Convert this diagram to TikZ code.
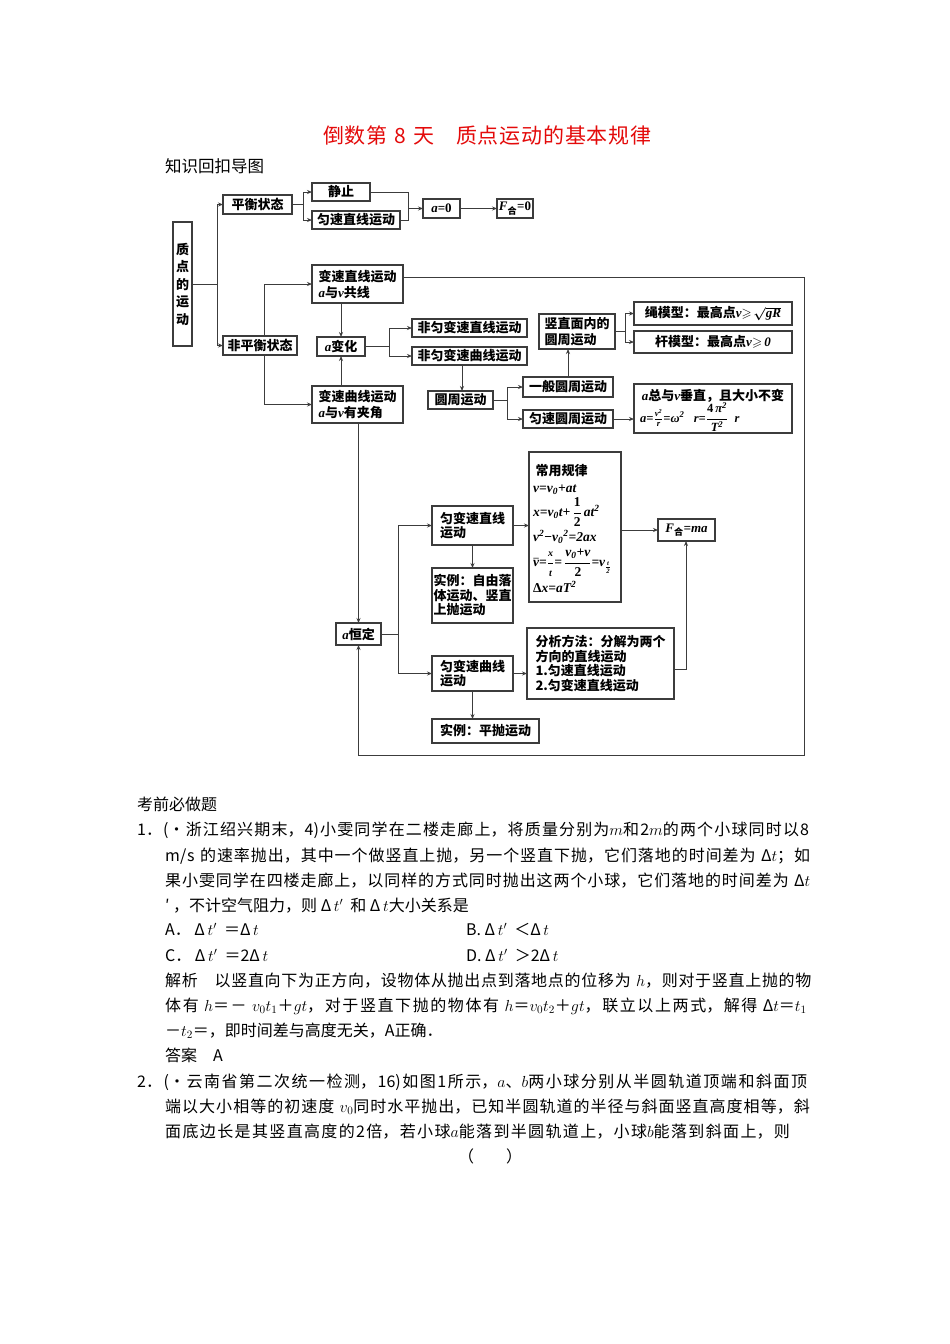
\RequirePackage{fix-cm}
\documentclass[tikz,border=0pt]{standalone}
\usepackage{amsmath,amssymb}
\usepackage{fontspec}
\setmainfont{Liberation Serif}
\newfontfamily\cjk{Noto Sans CJK SC}
\usetikzlibrary{arrows.meta}
\XeTeXlinebreaklocale "zh"
\XeTeXlinebreakskip=0pt plus 6pt minus 0.5pt
\tolerance=10000
\hbadness=10000
\definecolor{lc}{RGB}{60,60,60}
\definecolor{titlered}{RGB}{228,10,10}
\newcommand\dfont{\cjk\bfseries\boldmath\fontsize{13}{15}\selectfont}
\newcommand\bodyf{\cjk\fontsize{16}{20}\selectfont}
\newcommand\fm{\rmfamily\bfseries\itshape}
\newcommand\he{\textsubscript{\cjk\bfseries\upshape 合}}
\newcommand\up[1]{{\upshape #1}}
\newcommand\sm[1]{{\fontsize{10}{11}\selectfont #1}}
\newcommand\tline[4]{\node[anchor=base west,inner sep=0pt,text width=#3pt,font=\bodyf] (#1) at #2 {\noindent\parfillskip=0pt\relax #4\par};}
\tikzset{
  box/.style={draw=lc, line width=1.1pt, inner sep=0pt, outer sep=0pt, font=\dfont, align=center},
  ln/.style={draw=lc, line width=0.9pt},
  arr/.style={ln, -{Stealth[length=5pt,width=4pt]}},
  fml/.style={inner sep=0pt, font=\fm\boldmath\fontsize{13.5}{15}\selectfont},
  plain/.style={inner sep=0pt, font=\bodyf},
}
\begin{document}
\begin{tikzpicture}[x=1pt,y=-1pt]
\fill[white] (0,0) rectangle (950,1344);
\useasboundingbox (0,0) rectangle (950,1344);

% title
\node[inner sep=0pt,text width=334pt,font=\cjk\fontsize{21}{24}\selectfont,text=titlered] (title) at (490,136) {\noindent\parfillskip=0pt\relax 倒数第 8 天　质点运动的基本规律\par};
\node[anchor=west,inner sep=0pt,font=\cjk\fontsize{16.5}{20}\selectfont] (sub) at (165,166) {知识回扣导图};

% ---------- boxes ----------
\node[box,minimum width=19pt,minimum height=124pt,font=\dfont\fontsize{13}{17.5}\selectfont] (zhidian) at (182.5,284) {质\\点\\的\\运\\动};
\node[box,minimum width=69pt,minimum height=19pt] (pingheng) at (257.5,204.5) {平衡状态};
\node[box,minimum width=58pt,minimum height=18pt] (jingzhi) at (341,192) {静止};
\node[box,minimum width=88pt,minimum height=18pt] (yunsu) at (356,220) {匀速直线运动};
\node[box,minimum width=37pt,minimum height=19pt] (a0) at (441.5,208.5) {{\fm a}{\rmfamily\bfseries =0}};
\node[box,minimum width=36pt,minimum height=19pt] (F0) at (515,208.5) {{\fm F\he}{\rmfamily\bfseries =0}};
\node[box,minimum width=74pt,minimum height=19pt] (feiping) at (260,345.5) {非平衡状态};
\node[box,minimum width=91pt,minimum height=38pt,align=left,font=\dfont\fontsize{13}{16}\selectfont] (bsz) at (357.5,284) {变速直线运动\\{\fm a}与{\fm v}共线};
\node[box,minimum width=48pt,minimum height=19pt] (abh) at (341,346.5) {{\fm a}变化};
\node[box,minimum width=91pt,minimum height=37pt,align=left,font=\dfont\fontsize{13}{16}\selectfont] (bsq) at (357.5,404.5) {变速曲线运动\\{\fm a}与{\fm v}有夹角};
\node[box,minimum width=115pt,minimum height=18pt] (fz) at (469.5,328) {非匀变速直线运动};
\node[box,minimum width=115pt,minimum height=18pt] (fq) at (469.5,356) {非匀变速曲线运动};
\node[box,minimum width=65pt,minimum height=18pt] (yz) at (460.5,400) {圆周运动};
\node[box,minimum width=90pt,minimum height=20pt] (yb) at (568,387) {一般圆周运动};
\node[box,minimum width=90pt,minimum height=18pt] (ys) at (568,419) {匀速圆周运动};
\node[box,minimum width=76pt,minimum height=35pt,align=left,font=\dfont\fontsize{13}{16}\selectfont] (szm) at (577,331.5) {竖直面内的\\圆周运动};
\node[box,minimum width=158pt,minimum height=23pt] (sheng) at (713,313.5) {绳模型：最高点{\fm v}$\geqslant\!\sqrt{\text{\fm gR}}$};
\node[box,minimum width=158pt,minimum height=22pt] (gan) at (713,342) {杆模型：最高点{\fm v}$\geqslant$\,{\fm 0}};
\node[box,minimum width=158pt,minimum height=49pt] (azong) at (713,408.5) {};
\node[inner sep=0pt,font=\dfont] (az1) at (713,396) {{\fm a}总与{\fm v}垂直，且大小不变};
\node[anchor=west,fml,font=\fm\boldmath\fontsize{12.5}{14}\selectfont] (az2) at (640,417) {a=$\frac{\text{v\textsuperscript{2}}}{\text{r}}$=ω\textsuperscript{2}\ \ \ r=$\dfrac{\text{\up{4}\,π\textsuperscript{2}}}{\text{T\textsuperscript{2}}}$\ \ r};

\node[box,minimum width=45pt,minimum height=22pt] (ahd) at (358.5,634) {{\fm a}恒定};
\node[box,minimum width=81pt,minimum height=39pt,align=left,font=\dfont\fontsize{13}{14.5}\selectfont] (yjz) at (472.5,525.5) {匀变速直线\\运动};
\node[box,minimum width=81pt,minimum height=55pt,align=left,font=\dfont\fontsize{13}{14.5}\selectfont] (sl1) at (472.5,595.5) {实例：自由落\\体运动、竖直\\上抛运动};
\node[box,minimum width=92pt,minimum height=150pt] (cy) at (575,527) {};
\node[inner sep=0pt,font=\dfont] (cy0) at (561.5,471) {常用规律};
\node[fml,anchor=west] (cy1) at (533,490) {v=v\textsubscript{0}+at};
\node[fml,anchor=west] (cy2) at (533,512) {x=v\textsubscript{0}t+\,$\dfrac{\text{\up{1}}}{\text{\up{2}}}$\,at\textsuperscript{2}};
\node[fml,anchor=west] (cy3) at (533,537) {v\textsuperscript{2}\up{−}v\textsubscript{0}\textsuperscript{2}=2ax};
\node[fml,anchor=west] (cy4) at (533,563) {$\bar{\text{v}}$=$\dfrac{\text{\sm{x}}}{\text{\sm{t}}}$=\,$\dfrac{\text{v\textsubscript{0}+v}}{\text{\up{2}}}$=v\textsubscript{$\frac{\text{t}}{\text{2}}$}};
\node[fml,anchor=west] (cy5) at (533,587) {\up{Δ}x=aT\textsuperscript{2}};
\node[box,minimum width=57pt,minimum height=22pt] (Fma) at (686.5,530) {{\fm F\he=ma}};
\node[box,minimum width=81pt,minimum height=35pt,align=left,font=\dfont\fontsize{13}{14.5}\selectfont] (yjq) at (472.5,673.5) {匀变速曲线\\运动};
\node[box,minimum width=147pt,minimum height=71pt,align=left,font=\dfont\fontsize{13}{14.5}\selectfont] (fx) at (600.5,663.5) {分析方法：分解为两个\\方向的直线运动\\1.匀速直线运动\\2.匀变速直线运动};
\node[box,minimum width=107pt,minimum height=24pt] (sl2) at (485.5,731) {实例：平抛运动};

% ---------- connectors ----------
\coordinate (j1) at (217,284);
\draw[ln] (zhidian.east) -- (j1);
\draw[arr] (j1) |- (pingheng.west);
\draw[arr] (j1) |- (feiping.west);
\coordinate (j2) at (303,204.5);
\draw[ln] (pingheng.east) -- (j2);
\draw[arr] (j2) |- (jingzhi.west);
\draw[arr] (j2) |- (yunsu.west);
\coordinate (j3) at (408,208.5);
\draw[ln] (jingzhi.east) -| (j3);
\draw[ln] (yunsu.east) -| (j3);
\draw[arr] (j3) -- (a0.west);
\draw[arr] (a0.east) -- (F0.west);

\draw[arr] ([xshift=4pt]feiping.north) |- (bsz.west);
\draw[arr] ([xshift=4pt]feiping.south) |- (bsq.west);
\draw[arr] (abh.north |- bsz.south) -- (abh.north);
\draw[arr] (abh.south |- bsq.north) -- (abh.south);
\coordinate (j5) at (389,346.5);
\draw[ln] (abh.east) -- (j5);
\draw[arr] (j5) |- (fz.west);
\draw[arr] (j5) |- (fq.west);
\draw[arr] ([xshift=1.5pt]yz.north |- fq.south) -- ([xshift=1.5pt]yz.north);
\coordinate (j6) at (507,400);
\draw[ln] (yz.east) -- (j6);
\draw[arr] (j6) |- (yb.west);
\draw[arr] (j6) |- (ys.west);
\draw[arr] (yb.north) -- (yb.north |- szm.south);
\coordinate (j7) at (625,331.5);
\draw[ln] (szm.east) -- (j7);
\draw[arr] (j7) |- (sheng.west);
\draw[arr] (j7) |- (gan.west);
\draw[arr] (ys.east) -- (ys.east -| azong.west);

\coordinate (c1) at (804,277);
\coordinate (c2) at (804,755);
\draw[arr] ([yshift=7pt]bsz.east) -- (c1) -- (c2) -- (c2 -| ahd.south) -- (ahd.south);
\draw[arr] (ahd.north |- bsq.south) -- (ahd.north);
\coordinate (j8) at (398,634);
\draw[ln] (ahd.east) -- (j8);
\draw[arr] (j8) |- (yjz.west);
\draw[arr] (j8) |- (yjq.west);
\draw[arr] (yjz.east) -- (yjz.east -| cy.west);
\draw[arr] (yjz.south) -- (sl1.north);
\draw[arr] (Fma.west -| cy.east) -- (Fma.west);
\draw[arr] (yjq.east) -- (yjq.east -| fx.west);
\coordinate (j9) at (686,669);
\draw[arr] (fx.east |- j9) -- (j9) -- (j9 |- Fma.south);
\draw[arr] (yjq.south) -- (yjq.south |- sl2.north);

% ---------- body text ----------
\node[anchor=base west,plain] (l0) at (137,810) {考前必做题};
\tline{l1}{(137,835)}{678}{1．(•浙江绍兴期末，4)小雯同学在二楼走廊上，将质量分别为$m$和2$m$的两个小球同时以8}
\tline{l2}{(165,861)}{650}{m/s 的速率抛出，其中一个做竖直上抛，另一个竖直下抛，它们落地的时间差为 Δ$t$；如}
\tline{l3}{(165,886)}{650}{果小雯同学在四楼走廊上，以同样的方式同时抛出这两个小球，它们落地的时间差为 Δ$t$}
\node[anchor=base west,plain] (l4) at (165,911) {′ ，不计空气阻力，则 Δ\,$t'$ \ 和 Δ\,$t$大小关系是};
\node[anchor=base west,plain] (oA) at (165,935) {A．\ Δ\,$t'$ \ ＝Δ\,$t$};
\node[anchor=base west,plain] (oB) at (466,935) {B. Δ\,$t'$ \ ＜Δ\,$t$};
\node[anchor=base west,plain] (oC) at (165,961) {C．\ Δ\,$t'$ \ ＝2Δ\,$t$};
\node[anchor=base west,plain] (oD) at (466,961) {D. Δ\,$t'$ \ ＞2Δ\,$t$};
\tline{j1}{(165,986)}{650}{解析　以竖直向下为正方向，设物体从抛出点到落地点的位移为 $h$，则对于竖直上抛的物}
\tline{j2}{(165,1011)}{650}{体有 $h$＝－ $v_0t_1$＋$gt$，对于竖直下抛的物体有 $h$＝$v_0t_2$＋$gt$，联立以上两式，解得 Δ$t$＝$t_1$}
\node[anchor=base west,plain] (j3t) at (165,1036) {－$t_2$＝，即时间差与高度无关，A正确．};
\node[anchor=base west,plain] (ans) at (165,1061) {答案　A};
\tline{q1}{(137,1087)}{678}{2．(•云南省第二次统一检测，16)如图1所示，$a$、$b$两小球分别从半圆轨道顶端和斜面顶}
\tline{q2}{(165,1112)}{650}{端以大小相等的初速度 $v_0$同时水平抛出，已知半圆轨道的半径与斜面竖直高度相等，斜}
\tline{q3}{(165,1137)}{632}{面底边长是其竖直高度的2倍，若小球$a$能落到半圆轨道上，小球$b$能落到斜面上，则}
\node[plain] (paren) at (490,1156) {（　　）};
\end{tikzpicture}
\end{document}
